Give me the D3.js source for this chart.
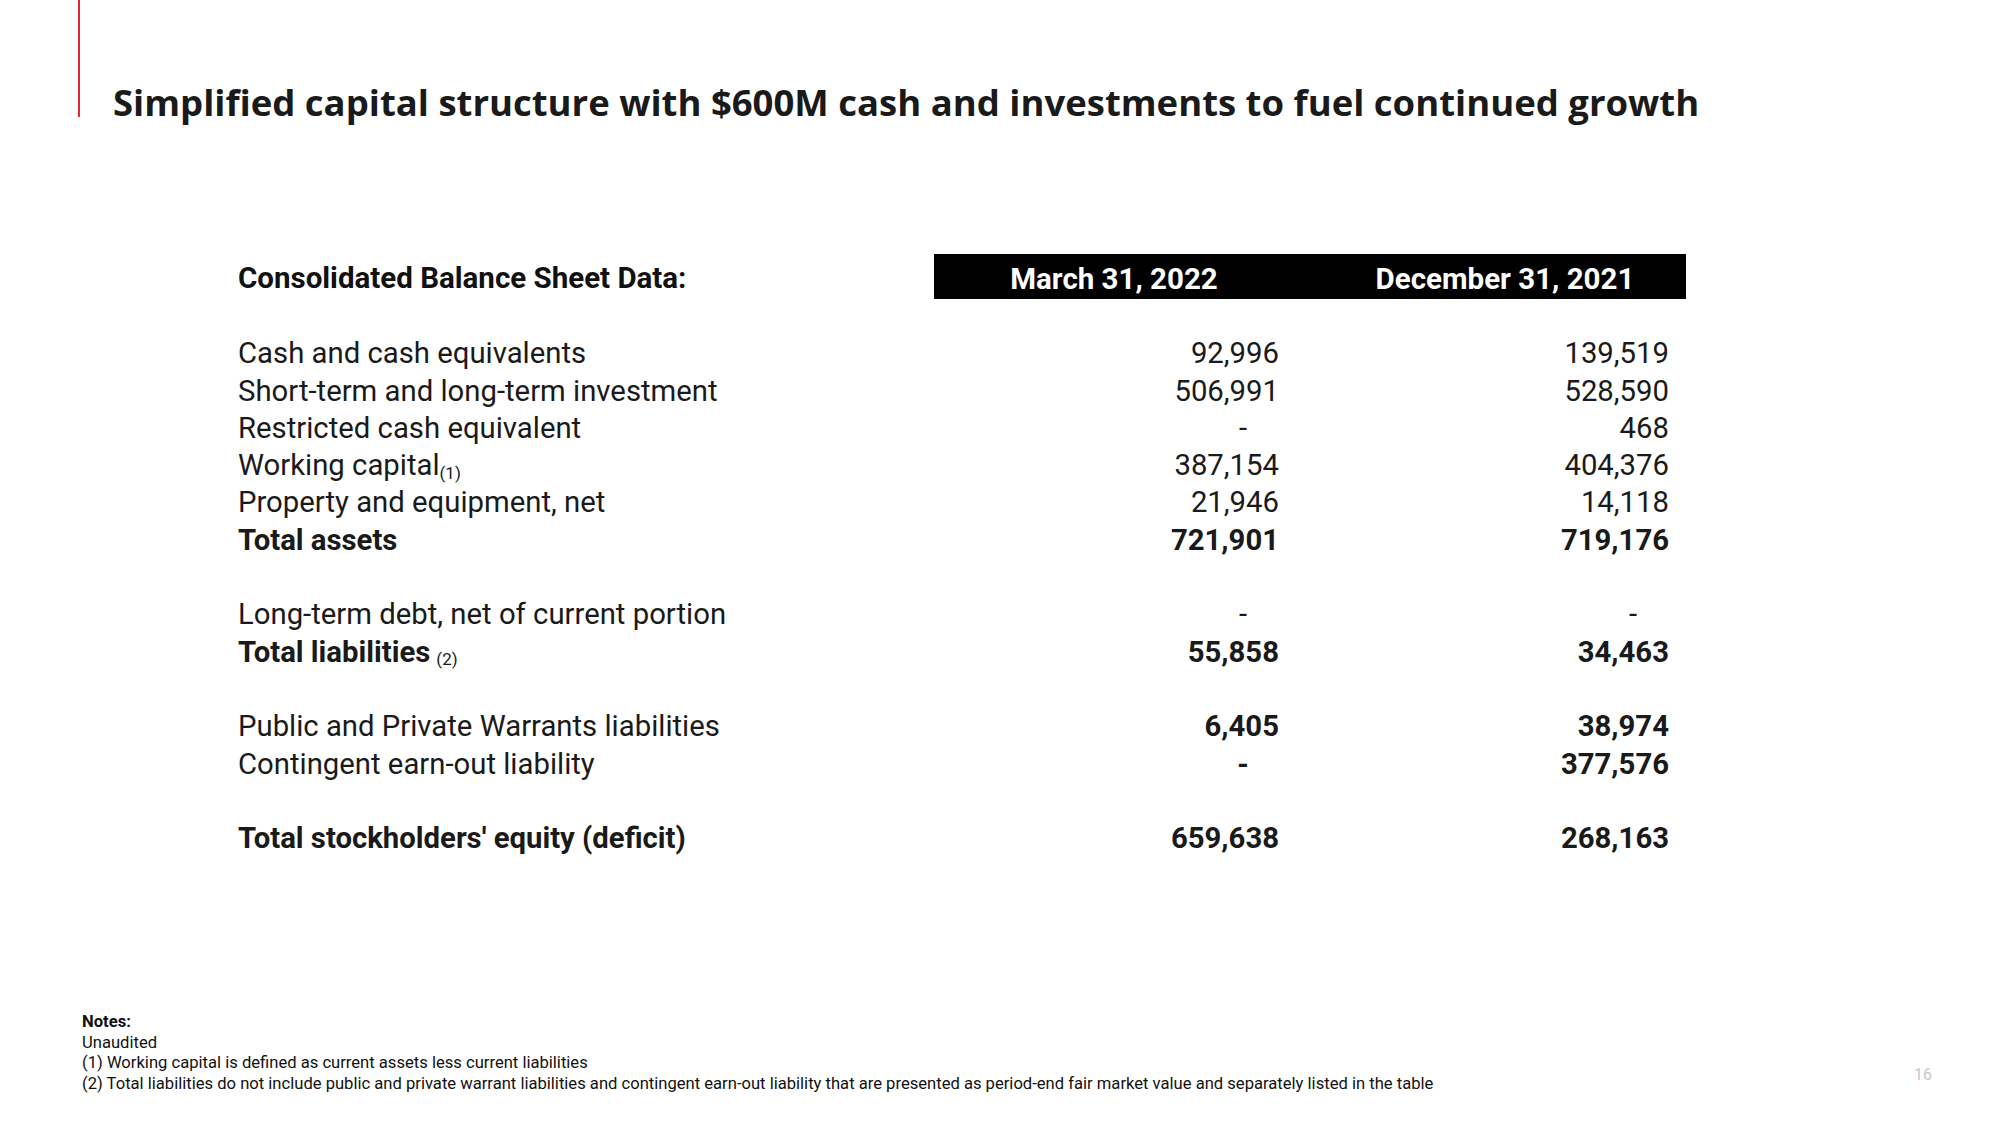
<!DOCTYPE html>
<html><head><meta charset="utf-8">
<script src="https://cdn.jsdelivr.net/npm/d3@7"></script>
<style>
html,body{margin:0;padding:0;background:#fff;}
svg{display:block;}
</style></head>
<body>
<svg id="c" width="2000" height="1125"></svg>
<script>
const title = "Simplified capital structure with $600M cash and investments to fuel continued growth";
const tableHeader = "Consolidated Balance Sheet Data:";
const columns = ["March 31, 2022", "December 31, 2021"];
const rowLabels = ["Cash and cash equivalents","Short-term and long-term investment","Restricted cash equivalent","Working capital","Property and equipment, net","Total assets","Long-term debt, net of current portion","Total liabilities","Public and Private Warrants liabilities","Contingent earn-out liability","Total stockholders' equity (deficit)"];
const rowNotes = ["","","","(1)","","","","(2)","","",""];
const rowSlots = [0,1,2,3,4,5,7,8,10,11,13];
const rowBold = [false,false,false,false,false,true,false,true,false,false,true];
const valueBold = [false,false,false,false,false,true,false,true,true,true,true];
const mar2022 = [92996,506991,null,387154,21946,721901,null,55858,6405,null,659638];
const dec2021 = [139519,528590,468,404376,14118,719176,null,34463,38974,377576,268163];
const notes = ["Notes:","Unaudited","(1) Working capital is defined as current assets less current liabilities","(2) Total liabilities do not include public and private warrant liabilities and contingent earn-out liability that are presented as period-end fair market value and separately listed in the table"];
const pageNumber = "16";

const svg = d3.select("#c");
const fmt = d3.format(",");

// accent line
svg.append("line").attr("x1",79).attr("x2",79).attr("y1",0).attr("y2",117)
  .attr("stroke","#e0283c").attr("stroke-width",2);

// title
const t = svg.append("text").attr("x",113).attr("y",116)
  .attr("font-family","'Open Sans', 'Noto Sans', sans-serif").attr("font-weight",700)
  .attr("font-size",38).attr("fill","#1a1a1a").text(title);
const tw = t.node().getComputedTextLength();
t.attr("font-size", 38*1587/tw);

const y = d3.scaleLinear().domain([0,13]).range([353,838]);
const colX = d3.scaleOrdinal().domain(columns).range([1279,1669]);
const font = "Roboto, 'Liberation Sans', sans-serif";

// header
svg.append("text").attr("x",238).attr("y",278).attr("dy","0.35em")
  .attr("font-family",font).attr("font-weight",700).attr("font-size",29.5)
  .attr("fill","#111").text(tableHeader);
svg.append("rect").attr("x",934).attr("y",254).attr("width",752).attr("height",45).attr("fill","#000");
const hdrCenter = d3.scaleOrdinal().domain(columns).range([1114,1505]);
svg.selectAll("text.col").data(columns).join("text").attr("class","col")
  .attr("x",d=>hdrCenter(d)).attr("y",279).attr("dy","0.35em").attr("text-anchor","middle")
  .attr("font-family",font).attr("font-weight",700).attr("font-size",29.5).attr("fill","#fff").text(d=>d);

// row labels
const lab = svg.selectAll("text.lab").data(rowLabels).join("text").attr("class","lab")
  .attr("x",238).attr("y",(d,i)=>y(rowSlots[i])).attr("dy","0.35em")
  .attr("font-family",font).attr("font-size",29.3).attr("fill","#1a1a1a")
  .attr("font-weight",(d,i)=>rowBold[i]?700:400);
lab.append("tspan").text(d=>d);
lab.append("tspan").attr("font-size",17).attr("font-weight",400).attr("dx",(d,i)=>rowBold[i]?6:0).attr("dy","0.2em")
  .text((d,i)=>rowNotes[i]);

// values
function drawCol(vals, col, cls){
  svg.selectAll("text."+cls).data(vals).join("text").attr("class",cls)
    .attr("x",(d,i)=> d===null ? colX(col)-36 : colX(col))
    .attr("y",(d,i)=>y(rowSlots[i])).attr("dy","0.35em")
    .attr("text-anchor",d=>d===null?"middle":"end")
    .attr("font-family",font).attr("font-size",29.3).attr("fill","#1a1a1a")
    .attr("font-weight",(d,i)=>valueBold[i]?700:400)
    .text(d=>d===null?"-":fmt(d));
}
drawCol(mar2022, columns[0], "v0");
drawCol(dec2021, columns[1], "v1");

// notes
svg.selectAll("text.note").data(notes).join("text").attr("class","note")
  .attr("x",82).attr("y",(d,i)=>1021+i*20.7).attr("dy","0.35em")
  .attr("font-family",font).attr("font-size",16.6).attr("fill","#111")
  .attr("font-weight",(d,i)=>i===0?700:400).text(d=>d);

svg.append("text").attr("x",1923).attr("y",1074).attr("dy","0.35em").attr("text-anchor","middle")
  .attr("font-family",font).attr("font-size",16).attr("fill","#c8c8c8").text(pageNumber);
</script>
</body></html>
